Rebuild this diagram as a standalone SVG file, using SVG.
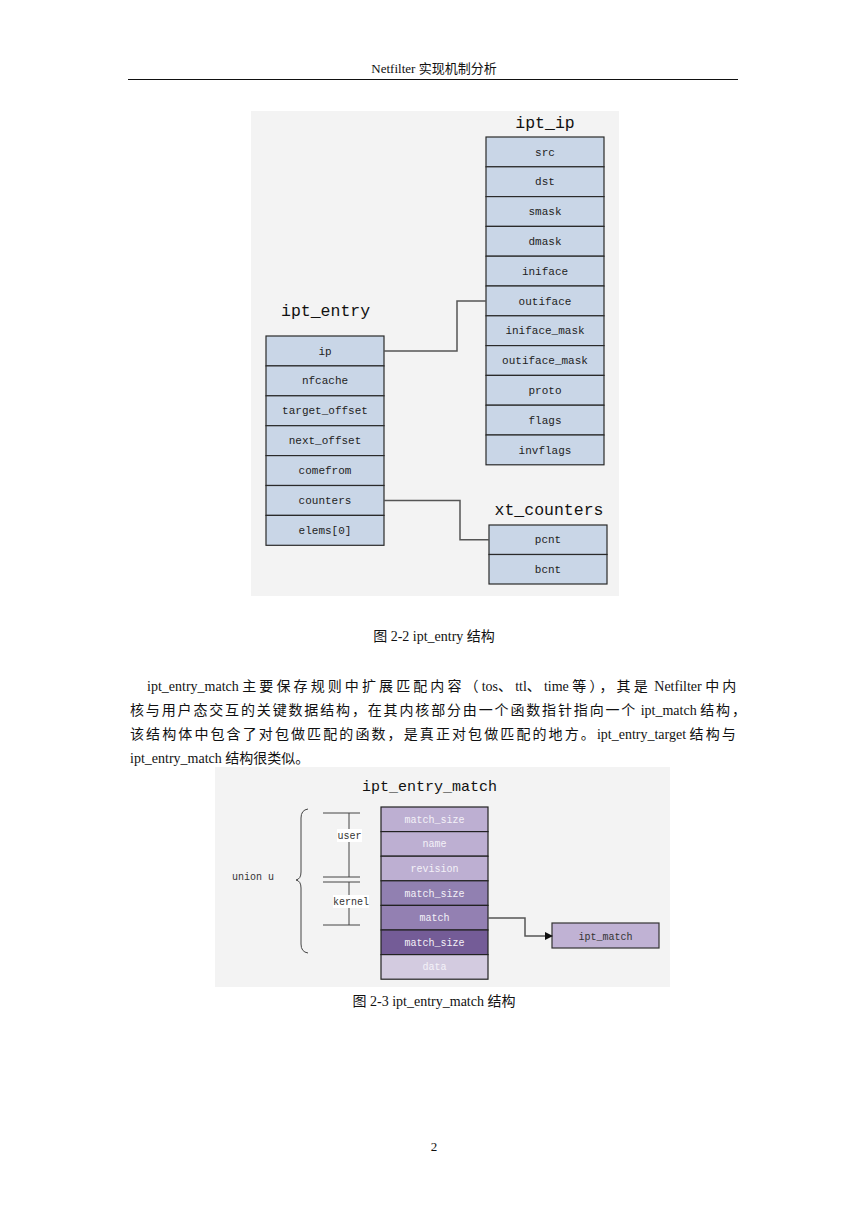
<svg xmlns="http://www.w3.org/2000/svg" width="868" height="1227" viewBox="0 0 868 1227">
<style>
.page{font-family:"Liberation Serif","Noto Sans CJK SC",serif;fill:#111}
.title{font-family:"Liberation Mono","DejaVu Sans Mono",monospace;font-size:16.5px;fill:#111}
.cell{fill:#c9d6e7;stroke:#2a2a2a;stroke-width:1.2}
.ct{font-family:"Liberation Mono","DejaVu Sans Mono",monospace;font-size:11px;fill:#222;text-anchor:middle}
.mt{font-family:"Liberation Mono","DejaVu Sans Mono",monospace;font-size:10px;fill:#f4f2f8;text-anchor:middle}
.lbl{font-family:"Liberation Mono","DejaVu Sans Mono",monospace;font-size:10px;fill:#333}
.conn{fill:none;stroke:#555;stroke-width:1.5}
.thin{fill:none;stroke:#444;stroke-width:1}
.bg{fill:#f3f3f3}
.s1{letter-spacing:3.1px}
.s2{letter-spacing:1.85px}
.s3{letter-spacing:2.1px}
</style>
<defs>
<marker id="arr" markerWidth="8" markerHeight="8" refX="7" refY="4" orient="auto" markerUnits="userSpaceOnUse">
<path d="M0,0 L8,4 L0,8 z" fill="#111"/>
</marker>
</defs>
<rect width="868" height="1227" fill="#ffffff"/>

<!-- header -->
<text class="page" x="434" y="73" font-size="13" text-anchor="middle">Netfilter 实现机制分析</text>
<line x1="128" y1="79.5" x2="738" y2="79.5" stroke="#111" stroke-width="1"/>

<!-- figure 2-2 -->
<rect class="bg" x="251" y="111" width="368" height="485"/>

<g id="ipt_ip">
<text class="title" x="545" y="128" text-anchor="middle">ipt_ip</text>
<rect class="cell" x="486" y="137" width="118" height="29.8"/>
<rect class="cell" x="486" y="166.8" width="118" height="29.8"/>
<rect class="cell" x="486" y="196.6" width="118" height="29.8"/>
<rect class="cell" x="486" y="226.4" width="118" height="29.8"/>
<rect class="cell" x="486" y="256.2" width="118" height="29.8"/>
<rect class="cell" x="486" y="286" width="118" height="29.8"/>
<rect class="cell" x="486" y="315.8" width="118" height="29.8"/>
<rect class="cell" x="486" y="345.6" width="118" height="29.8"/>
<rect class="cell" x="486" y="375.4" width="118" height="29.8"/>
<rect class="cell" x="486" y="405.2" width="118" height="29.8"/>
<rect class="cell" x="486" y="435" width="118" height="29.8"/>
<text class="ct" x="545" y="155.5">src</text>
<text class="ct" x="545" y="185.3">dst</text>
<text class="ct" x="545" y="215.1">smask</text>
<text class="ct" x="545" y="244.9">dmask</text>
<text class="ct" x="545" y="274.7">iniface</text>
<text class="ct" x="545" y="304.5">outiface</text>
<text class="ct" x="545" y="334.3">iniface_mask</text>
<text class="ct" x="545" y="364.1">outiface_mask</text>
<text class="ct" x="545" y="393.9">proto</text>
<text class="ct" x="545" y="423.7">flags</text>
<text class="ct" x="545" y="453.5">invflags</text>
</g>

<g id="ipt_entry">
<text class="title" x="281" y="316">ipt_entry</text>
<rect class="cell" x="266" y="336" width="118" height="29.9"/>
<rect class="cell" x="266" y="365.9" width="118" height="29.9"/>
<rect class="cell" x="266" y="395.8" width="118" height="29.9"/>
<rect class="cell" x="266" y="425.7" width="118" height="29.9"/>
<rect class="cell" x="266" y="455.6" width="118" height="29.9"/>
<rect class="cell" x="266" y="485.5" width="118" height="29.9"/>
<rect class="cell" x="266" y="515.4" width="118" height="29.9"/>
<text class="ct" x="325" y="354.5">ip</text>
<text class="ct" x="325" y="384.4">nfcache</text>
<text class="ct" x="325" y="414.3">target_offset</text>
<text class="ct" x="325" y="444.2">next_offset</text>
<text class="ct" x="325" y="474.1">comefrom</text>
<text class="ct" x="325" y="504">counters</text>
<text class="ct" x="325" y="533.9">elems[0]</text>
</g>

<g id="xt_counters">
<text class="title" x="549" y="515" text-anchor="middle">xt_counters</text>
<rect class="cell" x="489" y="525" width="118" height="29.5"/>
<rect class="cell" x="489" y="554.5" width="118" height="29.5"/>
<text class="ct" x="548" y="543.3">pcnt</text>
<text class="ct" x="548" y="572.8">bcnt</text>
</g>

<g id="connectors-2-2">
<path class="conn" d="M384,351 H457 V301 H486"/>
<path class="conn" d="M384,500.5 H460 V539.7 H489"/>
</g>

<text class="page" x="434" y="641" font-size="14" text-anchor="middle">图 2-2 ipt_entry 结构</text>

<!-- paragraph -->
<text class="page" x="147" y="691" font-size="14">ipt_entry_match <tspan class="s1">主要保存规则中扩展匹配内容（</tspan>tos<tspan class="s1">、</tspan>ttl<tspan class="s1">、</tspan>time <tspan class="s1">等），其是</tspan> Netfilter <tspan class="s1">中内</tspan></text>
<text class="page" x="130" y="715" font-size="14"><tspan class="s2">核与用户态交互的关键数据结构，在其内核部分由一个函数指针指向一个</tspan> ipt_match <tspan class="s2">结构，</tspan></text>
<text class="page" x="130" y="739" font-size="14"><tspan class="s3">该结构体中包含了对包做匹配的函数，是真正对包做匹配的地方。</tspan>ipt_entry_target <tspan class="s3">结构与</tspan></text>
<text class="page" x="130" y="763" font-size="14">ipt_entry_match 结构很类似。</text>

<!-- figure 2-3 -->
<rect class="bg" x="215" y="767" width="455" height="220"/>

<g id="ipt_entry_match">
<text class="title" x="429.5" y="791" text-anchor="middle" style="font-size:15px">ipt_entry_match</text>
<rect x="381" y="807" width="107" height="24.6" fill="#bdafd2" stroke="#222" stroke-width="1.2"/>
<rect x="381" y="831.6" width="107" height="24.6" fill="#bdafd2" stroke="#222" stroke-width="1.2"/>
<rect x="381" y="856.2" width="107" height="24.6" fill="#bdafd2" stroke="#222" stroke-width="1.2"/>
<rect x="381" y="880.8" width="107" height="24.6" fill="#9180b1" stroke="#222" stroke-width="1.2"/>
<rect x="381" y="905.4" width="107" height="24.6" fill="#9380b2" stroke="#222" stroke-width="1.2"/>
<rect x="381" y="930" width="107" height="24.6" fill="#745c97" stroke="#222" stroke-width="1.2"/>
<rect x="381" y="954.6" width="107" height="24.6" fill="#d3cbe0" stroke="#222" stroke-width="1.2"/>
<text class="mt" x="434.5" y="822.8">match_size</text>
<text class="mt" x="434.5" y="847.4">name</text>
<text class="mt" x="434.5" y="872">revision</text>
<text class="mt" x="434.5" y="896.6">match_size</text>
<text class="mt" x="434.5" y="921.2">match</text>
<text class="mt" x="434.5" y="945.8">match_size</text>
<text class="mt" x="434.5" y="970.4">data</text>
</g>

<g id="union-u">
<text class="lbl" x="232" y="880">union u</text>
<path class="thin" stroke="#777" d="M308,809 Q301,810 301,818 L301,872 Q301,879 296,880 Q301,881 301,888 L301,944 Q301,952 308,953"/>
</g>

<g id="user">
<line class="thin" x1="323" y1="813" x2="360" y2="813"/>
<line class="thin" x1="349" y1="813" x2="349" y2="877"/>
<line class="thin" x1="323" y1="877" x2="360" y2="877"/>
<rect x="337" y="829" width="25" height="13" fill="#ffffff"/>
<text class="lbl" x="349.5" y="839" text-anchor="middle">user</text>
</g>

<g id="kernel">
<line class="thin" x1="323" y1="882" x2="360" y2="882"/>
<line class="thin" x1="349" y1="882" x2="349" y2="925"/>
<line class="thin" x1="323" y1="925" x2="360" y2="925"/>
<rect x="333" y="895" width="36" height="13" fill="#ffffff"/>
<text class="lbl" x="351" y="905" text-anchor="middle">kernel</text>
</g>

<g id="ipt_match">
<rect x="552" y="923" width="107" height="25" fill="#c0b2d4" stroke="#333" stroke-width="1.2"/>
<text class="lbl" x="605.5" y="939.5" text-anchor="middle" fill="#222">ipt_match</text>
</g>

<g id="connectors-2-3">
<path class="conn" d="M488,918 H525 V936 H552" marker-end="url(#arr)"/>
</g>

<text class="page" x="434" y="1006" font-size="14" text-anchor="middle">图 2-3 ipt_entry_match 结构</text>

<text class="page" x="434" y="1151" font-size="13" text-anchor="middle">2</text>
</svg>
